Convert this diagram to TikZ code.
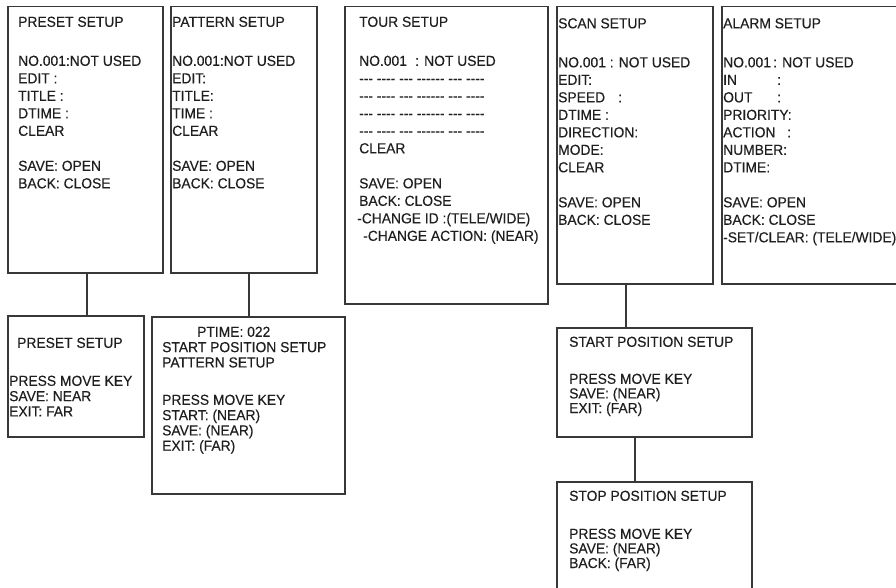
\documentclass[tikz,border=0pt]{standalone}
\usepackage{fontspec}
\setmainfont{Liberation Sans}[FakeStretch=0.955,FakeBold=0.3]
\begin{document}
\begin{tikzpicture}[x=1pt,y=-1pt,
  box/.style={draw=black!78, line width=1.5pt, rectangle, inner sep=0pt, anchor=north west},
  txt/.style={inner sep=0pt, anchor=north west, align=left, text=black!88, font=\fontsize{14.5}{17.5}\selectfont},
  stxt/.style={txt, font=\fontsize{14.5}{15.3}\selectfont},
  link/.style={draw=black!78, line width=1.5pt}]
\useasboundingbox (0,0) rectangle (896,588);
\clip (0,0) rectangle (896,588);
\fill[white] (0,0) rectangle (896,588);

% top row boxes
\node[box, minimum width=155pt, minimum height=266pt] (preset) at (7,6) {};
\node[box, minimum width=146pt, minimum height=266pt] (pattern) at (170,6) {};
\node[box, minimum width=203pt, minimum height=297pt] (tour) at (344,6) {};
\node[box, minimum width=156pt, minimum height=277pt] (scan) at (556,6) {};
\node[box, minimum width=190pt, minimum height=277pt] (alarm) at (721,6) {};

% lower boxes
\node[box, minimum width=136pt, minimum height=121pt] (presetsub) at (7,315) {};
\node[box, minimum width=193pt, minimum height=177pt] (patternsub) at (151,316) {};
\node[box, minimum width=195pt, minimum height=109pt] (startpos) at (556,327) {};
\node[box, minimum width=195pt, minimum height=120pt] (stoppos) at (556,481) {};

% connectors
\draw[link] ([xshift=1.5pt]preset.south) -- ([xshift=1.5pt]preset.south |- presetsub.north);
\draw[link] ([xshift=5pt]pattern.south) -- ([xshift=5pt]pattern.south |- patternsub.north);
\draw[link] ([xshift=-9pt]scan.south) -- ([xshift=-9pt]scan.south |- startpos.north);
\draw[link] ([xshift=-19.5pt]startpos.south) -- ([xshift=-19.5pt]startpos.south |- stoppos.north);

% preset setup text
\node[txt] (presetH) at (18,16.5) {PRESET SETUP};
\node[txt] (presetB) at (18,55.5) {NO.001:NOT USED\\EDIT :\\TITLE :\\DTIME :\\CLEAR\\[17.5pt]SAVE: OPEN\\BACK: CLOSE};

% pattern setup text
\node[txt] (patternH) at (172,16.5) {PATTERN SETUP};
\node[txt] (patternB) at (172,55.5) {NO.001:NOT USED\\EDIT:\\TITLE:\\TIME :\\CLEAR\\[17.5pt]SAVE: OPEN\\BACK: CLOSE};

% tour setup text
\node[txt] (tourH) at (359,16.5) {TOUR SETUP};
\node[txt] (tourB) at (359,55.5) {\makebox[56pt][l]{NO.001}: NOT USED\\
-{}-{}- -{}-{}-{}- -{}-{}- -{}-{}-{}-{}-{}- -{}-{}- -{}-{}-{}-\\
-{}-{}- -{}-{}-{}- -{}-{}- -{}-{}-{}-{}-{}- -{}-{}- -{}-{}-{}-\\
-{}-{}- -{}-{}-{}- -{}-{}- -{}-{}-{}-{}-{}- -{}-{}- -{}-{}-{}-\\
-{}-{}- -{}-{}-{}- -{}-{}- -{}-{}-{}-{}-{}- -{}-{}- -{}-{}-{}-\\
CLEAR\\[17.5pt]SAVE: OPEN\\BACK: CLOSE\\\hspace*{-2pt}-CHANGE ID :(TELE/WIDE)\\\hspace*{4pt}-CHANGE ACTION: (NEAR)};

% scan setup text
\node[txt] (scanH) at (558,18) {SCAN SETUP};
\node[txt] (scanB) at (558,57) {NO.001 : NOT USED\\EDIT:\\\makebox[60pt][l]{SPEED}:\\DTIME :\\DIRECTION:\\MODE:\\CLEAR\\[17.5pt]SAVE: OPEN\\BACK: CLOSE};

% alarm setup text
\node[txt] (alarmH) at (723,18) {ALARM SETUP};
\node[txt] (alarmB) at (723,57) {\makebox[50pt][l]{NO.001}: NOT USED\\\makebox[54pt][l]{IN}:\\\makebox[54pt][l]{OUT}:\\PRIORITY:\\\makebox[64pt][l]{ACTION}:\\NUMBER:\\DTIME:\\[17.5pt]SAVE: OPEN\\BACK: CLOSE\\-SET/CLEAR: (TELE/WIDE)};

% preset sub text
\node[txt] (presetsubH) at (17,337.5) {PRESET SETUP};
\node[stxt] (presetsubB) at (9,375.5) {PRESS MOVE KEY\\SAVE: NEAR\\EXIT: FAR};

% pattern sub text
\node[stxt] (patternsubH) at (162,326.5) {\hspace*{35pt}PTIME: 022\\START POSITION SETUP\\PATTERN SETUP};
\node[stxt] (patternsubB) at (162,394.5) {PRESS MOVE KEY\\START: (NEAR)\\SAVE: (NEAR)\\EXIT: (FAR)};

% start position text
\node[txt] (startH) at (569,336.5) {START POSITION SETUP};
\node[stxt, font=\fontsize{14.5}{14.6}\selectfont] (startB) at (569,373.5) {PRESS MOVE KEY\\SAVE: (NEAR)\\EXIT: (FAR)};

% stop position text
\node[txt] (stopH) at (569,490.5) {STOP POSITION SETUP};
\node[stxt, font=\fontsize{14.5}{14.6}\selectfont] (stopB) at (569,528.5) {PRESS MOVE KEY\\SAVE: (NEAR)\\BACK: (FAR)};
\end{tikzpicture}
\end{document}
